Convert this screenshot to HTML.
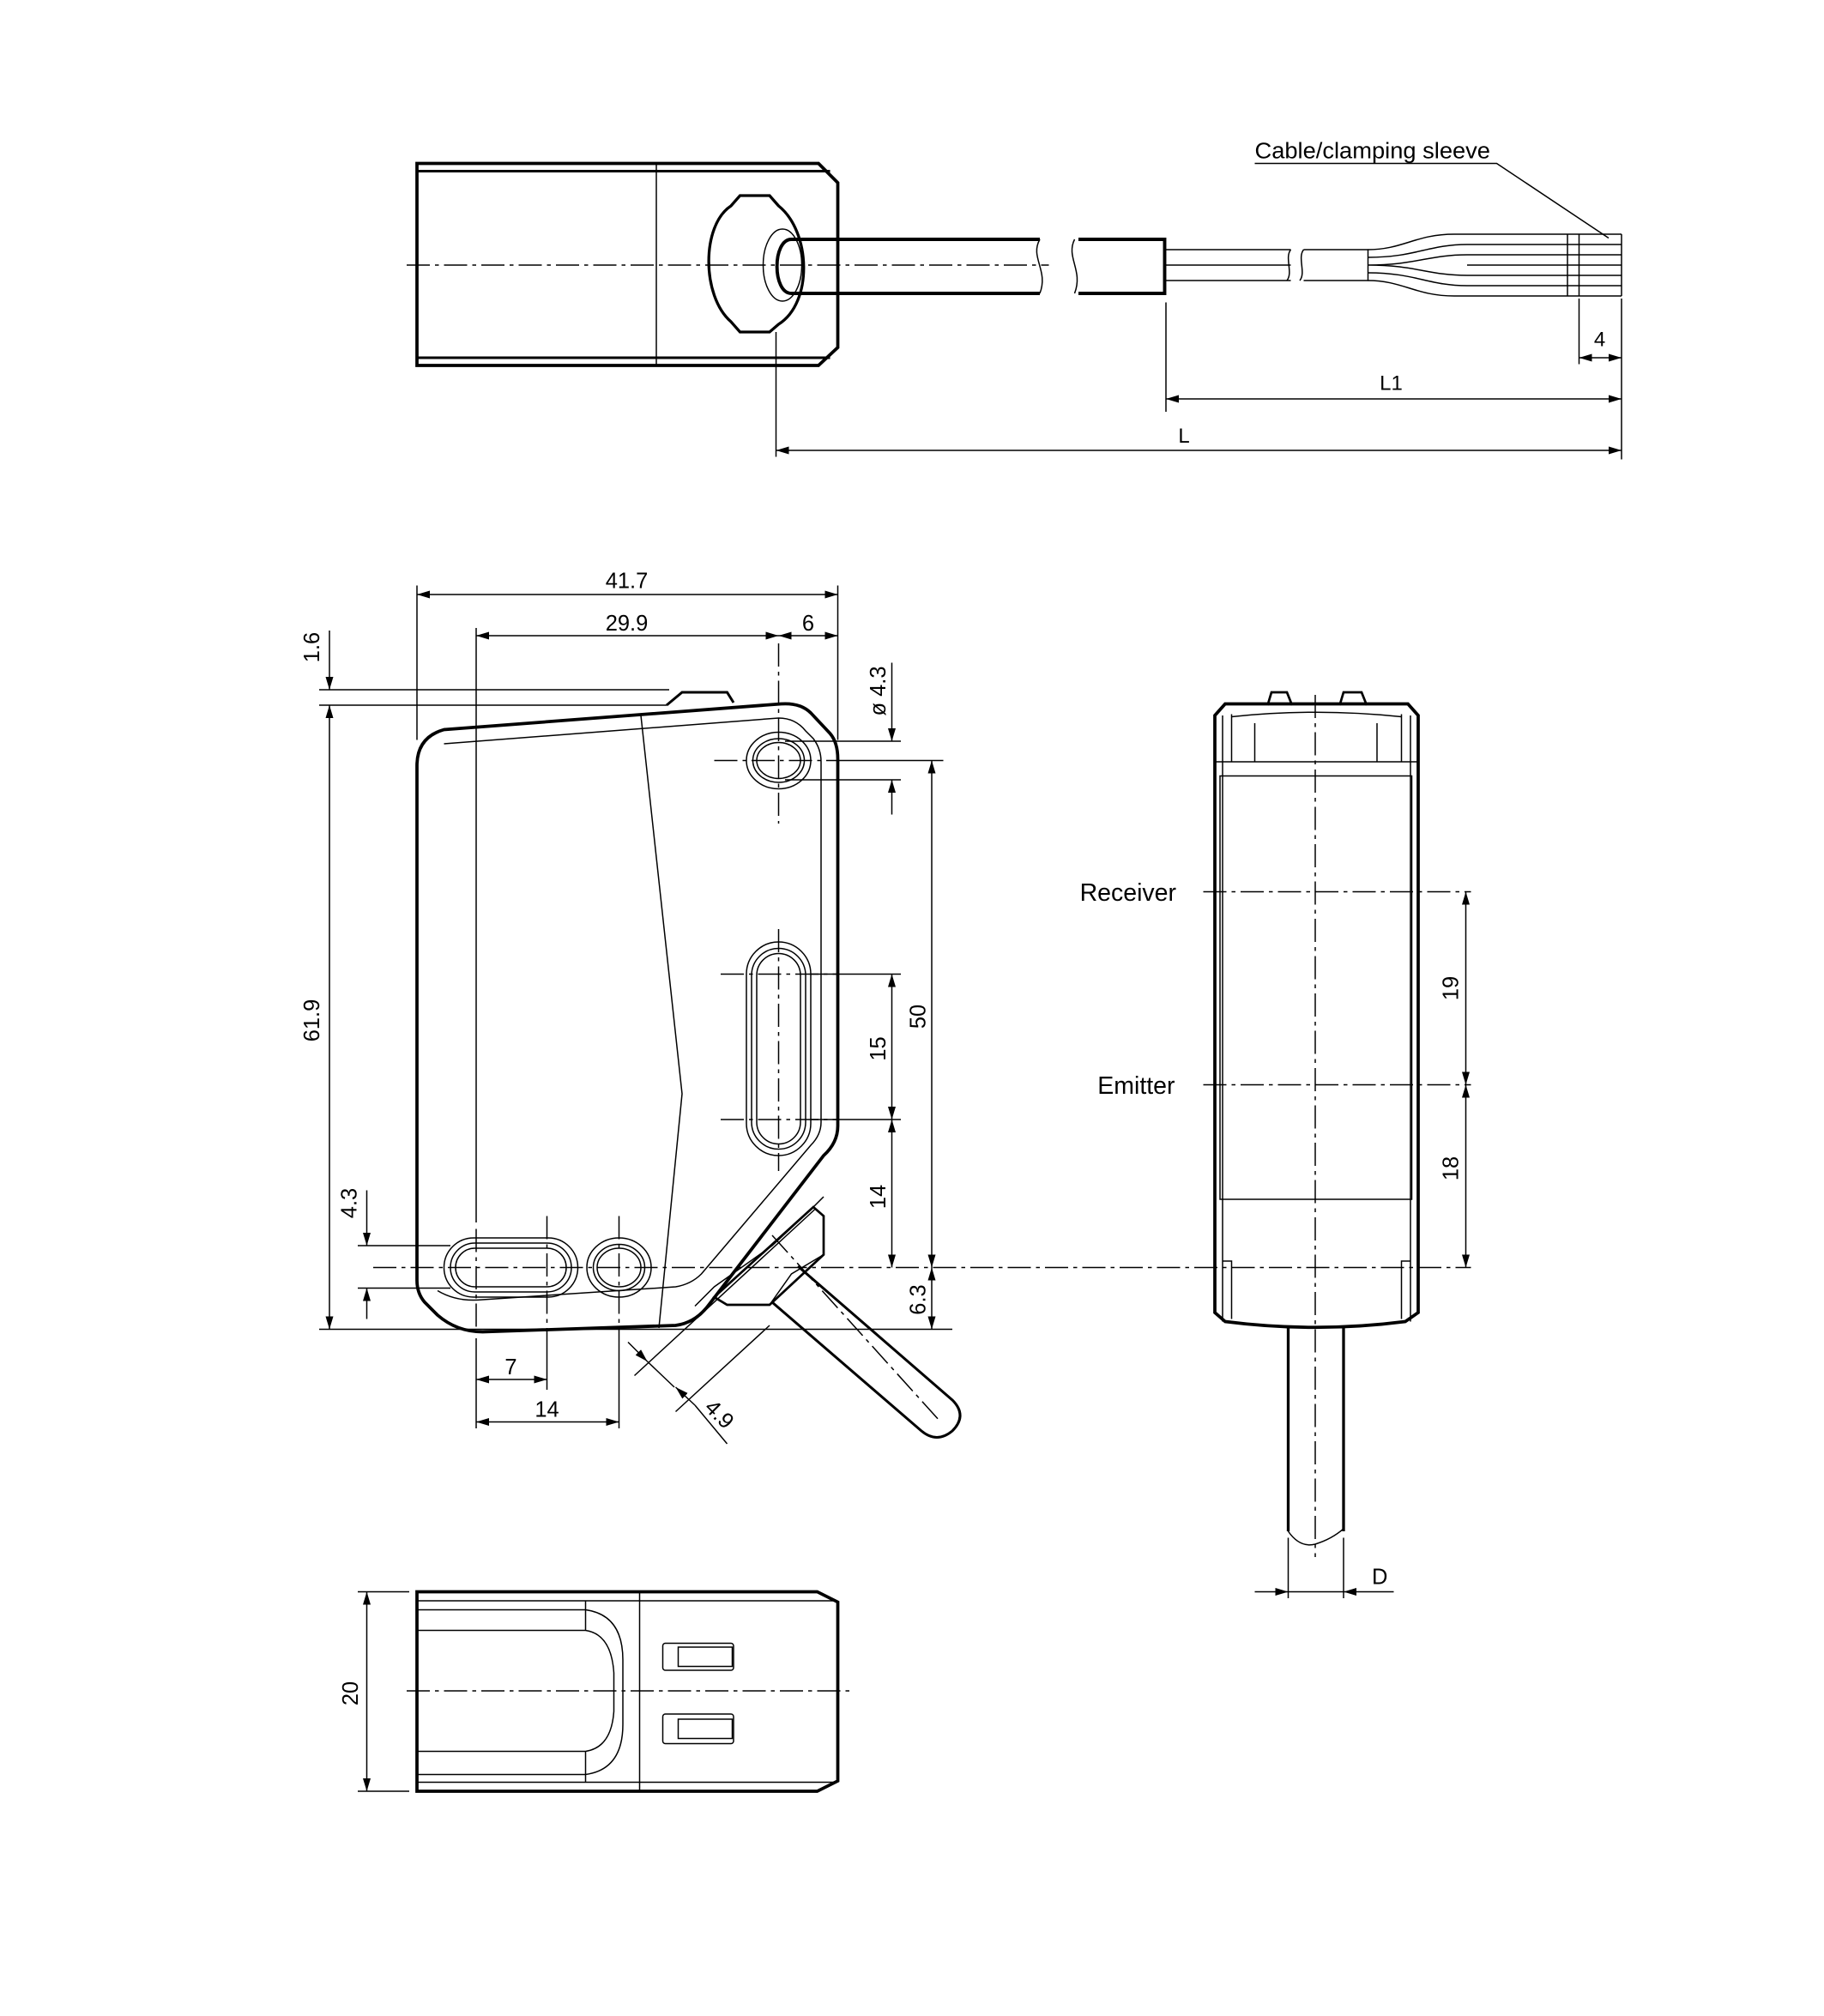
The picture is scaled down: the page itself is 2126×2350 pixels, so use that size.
<!DOCTYPE html>
<html><head><meta charset="utf-8"><style>html,body{margin:0;padding:0;background:#fff}svg{display:block}</style></head><body>
<svg width="2126" height="2350" viewBox="0 0 1417.33 1566.67" xmlns="http://www.w3.org/2000/svg" font-family="Liberation Sans, sans-serif" fill="none" stroke="#000">
<defs>
<marker id="a" viewBox="0 0 10 6" refX="10" refY="3" markerWidth="10" markerHeight="6" orient="auto-start-reverse" markerUnits="userSpaceOnUse"><path d="M0,0L10,3L0,6z" fill="#000" stroke="none"/></marker>
</defs>
<g stroke-width="1">
<!-- TOP VIEW -->
<path d="M324,127H636L651,142V270L636,284H324Z" stroke-width="2.5"/>
<line x1="324" y1="133" x2="645" y2="133" stroke-width="2"/>
<line x1="324" y1="278" x2="645" y2="278" stroke-width="2"/>
<line x1="510" y1="127" x2="510" y2="284"/>
<path d="M575,152H598L605,160C630,180 632,235 605,252L598,258H575L568,250C545,230 545,175 568,160Z" stroke-width="2.2"/>
<ellipse cx="608" cy="206" rx="15" ry="28"/>
<path d="M808,186H615C600,186 600,228 615,228H808" stroke-width="2.6"/>
<path d="M808,186C800,200 815,210 808,228"/>
<path d="M835,186C828,200 842,210 835,228"/>
<path d="M838,186H905V228H838" stroke-width="2.6"/>
<path d="M905,194H1003M905,206H1003M905,218H1003"/>
<path d="M1003,194C998,200 1005,212 1000,218M1013,194C1008,200 1015,212 1010,218"/>
<path d="M1013,194H1063V218H1013"/>
<path d="M1063,194C1090,194 1100,182 1130,182H1260M1063,200C1100,200 1110,190 1140,190H1260M1063,206C1100,206 1110,198 1140,198H1260M1063,206C1100,206 1110,214 1140,214H1260M1063,212C1100,212 1110,222 1140,222H1260M1063,218C1090,218 1100,230 1130,230H1260M1140,206H1260"/>
<line x1="1218" y1="182" x2="1218" y2="230"/><line x1="1227" y1="182" x2="1227" y2="230"/><line x1="1260" y1="182" x2="1260" y2="230"/>
<line x1="316" y1="206" x2="815" y2="206" stroke-dasharray="18,4,3,4"/>
<!-- leader -->
<path d="M975,127H1163L1250,185"/>
<text x="975" y="123" font-size="17" fill="#000" stroke="none" textLength="183" lengthAdjust="spacingAndGlyphs">Cable/clamping sleeve</text>
<!-- dims -->
<line x1="603" y1="258" x2="603" y2="355"/>
<line x1="906" y1="235" x2="906" y2="320"/>
<line x1="1227" y1="232" x2="1227" y2="283"/>
<line x1="1260" y1="232" x2="1260" y2="357"/>
<line x1="906" y1="310" x2="1260" y2="310" marker-start="url(#a)" marker-end="url(#a)"/>
<line x1="603" y1="350" x2="1260" y2="350" marker-start="url(#a)" marker-end="url(#a)"/>
<line x1="1227" y1="278" x2="1260" y2="278" marker-start="url(#a)" marker-end="url(#a)"/>
<g fill="#000" stroke="none" font-size="16" text-anchor="middle">
<text x="1081" y="303">L1</text><text x="920" y="344">L</text><text x="1243" y="269">4</text>
</g>

<!-- FRONT VIEW -->
<path d="M518,548L530,538H565L570,546" stroke-width="2"/>
<path d="M345,567L607,547Q622,546 630,554L645,570Q651,577 651,590V875Q651,888 640,898L550,1015Q540,1028 525,1030L375,1035Q355,1035 340,1022L330,1012Q324,1005 324,995V595Q324,573 345,567Z" stroke-width="2.5"/>
<path d="M345,578L605,558Q618,558 626,568L632,574Q638,582 638,592V872Q638,882 630,890L545,990Q537,998 525,1000L375,1010Q355,1012 340,1003"/>
<path d="M498,556L530,850L512,1032"/>
<path d="M540,1015L555,1000L600,968L630,940L640,930"/>
<!-- connector -->
<path d="M555,1008L632,938L640,945V975L598,1014H565Z" stroke-width="1.8"/>
<path d="M598,1014L615,990L640,975"/>
<path d="M620,984L740,1088Q752,1100 740,1112Q728,1122 716,1112L600,1012" stroke-width="2"/>
<line x1="600" y1="960" x2="730" y2="1104" stroke-dasharray="18,4,3,4"/>
<!-- holes -->
<ellipse cx="605" cy="591" rx="25" ry="22"/><ellipse cx="605" cy="591" rx="20" ry="17"/><ellipse cx="605" cy="591" rx="17" ry="14"/>
<rect x="580" y="732" width="50" height="166" rx="25"/><rect x="584" y="737" width="42" height="156" rx="21"/><rect x="588" y="741" width="34" height="148" rx="17"/>
<rect x="345" y="962" width="104" height="46" rx="23"/><rect x="350" y="966" width="94" height="38" rx="19"/><rect x="354" y="970" width="86" height="30" rx="15"/>
<ellipse cx="481" cy="985" rx="25" ry="23"/><ellipse cx="481" cy="985" rx="20" ry="18"/><ellipse cx="481" cy="985" rx="17" ry="15"/>
<g stroke-dasharray="18,4,3,4">
<line x1="605" y1="500" x2="605" y2="640"/>
<line x1="555" y1="591" x2="655" y2="591"/>
<line x1="605" y1="722" x2="605" y2="910"/>
<line x1="560" y1="757" x2="650" y2="757"/>
<line x1="560" y1="870" x2="650" y2="870"/>
<line x1="290" y1="985" x2="1143" y2="985"/>
<line x1="370" y1="955" x2="370" y2="1035"/>
<line x1="425" y1="945" x2="425" y2="1040"/>
<line x1="481" y1="945" x2="481" y2="1040"/>
</g>
<!-- front dims -->
<line x1="324" y1="455" x2="324" y2="575"/><line x1="651" y1="455" x2="651" y2="575"/>
<line x1="370" y1="488" x2="370" y2="950"/>
<line x1="324" y1="462" x2="651" y2="462" marker-start="url(#a)" marker-end="url(#a)"/>
<line x1="370" y1="494" x2="605" y2="494" marker-start="url(#a)" marker-end="url(#a)"/>
<line x1="605" y1="494" x2="651" y2="494" marker-start="url(#a)" marker-end="url(#a)"/>
<line x1="248" y1="536" x2="520" y2="536"/><line x1="248" y1="548" x2="518" y2="548"/>
<line x1="256" y1="490" x2="256" y2="536" marker-end="url(#a)"/>
<line x1="256" y1="548" x2="256" y2="1033" marker-start="url(#a)" marker-end="url(#a)"/>
<line x1="248" y1="1033" x2="740" y2="1033"/>
<line x1="278" y1="968" x2="350" y2="968"/><line x1="278" y1="1001" x2="350" y2="1001"/>
<line x1="285" y1="925" x2="285" y2="968" marker-end="url(#a)"/>
<line x1="285" y1="1001" x2="285" y2="1025" marker-start="url(#a)"/>
<line x1="610" y1="576" x2="700" y2="576"/><line x1="610" y1="606" x2="700" y2="606"/>
<line x1="693" y1="515" x2="693" y2="576" marker-end="url(#a)"/>
<line x1="693" y1="606" x2="693" y2="633" marker-start="url(#a)"/>
<line x1="655" y1="591" x2="733" y2="591"/>
<line x1="724" y1="591" x2="724" y2="985" marker-start="url(#a)" marker-end="url(#a)"/>
<line x1="724" y1="985" x2="724" y2="1033" marker-start="url(#a)" marker-end="url(#a)"/>
<line x1="630" y1="757" x2="700" y2="757"/><line x1="630" y1="870" x2="700" y2="870"/>
<line x1="693" y1="757" x2="693" y2="870" marker-start="url(#a)" marker-end="url(#a)"/>
<line x1="693" y1="870" x2="693" y2="985" marker-start="url(#a)" marker-end="url(#a)"/>
<line x1="370" y1="1040" x2="370" y2="1110"/><line x1="425" y1="1040" x2="425" y2="1080"/><line x1="481" y1="1040" x2="481" y2="1110"/>
<line x1="370" y1="1072" x2="425" y2="1072" marker-start="url(#a)" marker-end="url(#a)"/>
<line x1="370" y1="1105" x2="481" y2="1105" marker-start="url(#a)" marker-end="url(#a)"/>
<line x1="493" y1="1069" x2="633" y2="940"/>
<line x1="525" y1="1097" x2="598" y2="1030"/>
<line x1="488" y1="1043" x2="503" y2="1058" marker-end="url(#a)"/>
<line x1="503" y1="1058" x2="524" y2="1078"/>
<line x1="540" y1="1092" x2="525" y2="1078" marker-end="url(#a)"/>
<line x1="540" y1="1092" x2="565" y2="1122"/>
<g fill="#000" stroke="none" font-size="17" text-anchor="middle">
<text x="487" y="457">41.7</text><text x="487" y="490">29.9</text><text x="628" y="490">6</text>
<text x="397" y="1068">7</text><text x="425" y="1101">14</text>
<text transform="translate(248,503) rotate(-90)">1.6</text>
<text transform="translate(248,793) rotate(-90)">61.9</text>
<text transform="translate(277,935) rotate(-90)">4.3</text>
<text transform="translate(688,537) rotate(-90)">ø 4.3</text>
<text transform="translate(719,790) rotate(-90)">50</text>
<text transform="translate(688,815) rotate(-90)">15</text>
<text transform="translate(688,930) rotate(-90)">14</text>
<text transform="translate(719,1010) rotate(-90)">6.3</text>
<text transform="translate(555,1103) rotate(45)">4.9</text>
</g>

<!-- SIDE VIEW -->
<path d="M985,548L988,538H1000L1004,548M1041,548L1044,538H1058L1062,548" stroke-width="1.8"/>
<path d="M952,547H1094L1102,556V1020L1092,1027Q1022,1036 952,1027L944,1020V556Z" stroke-width="2.5"/>
<line x1="950" y1="556" x2="950" y2="1027"/><line x1="1096" y1="556" x2="1096" y2="1027"/>
<line x1="957" y1="555" x2="957" y2="592"/><line x1="1089" y1="555" x2="1089" y2="592"/>
<path d="M957,557Q1022,550 1089,557M975,562V592M1070,562V592"/>
<line x1="944" y1="592" x2="1102" y2="592"/>
<rect x="948" y="603" width="149" height="329"/>
<path d="M950,980H957V1025M1096,980H1089V1025"/>
<path d="M1001,1032V1190M1044,1032V1190" stroke-width="2.2"/>
<path d="M1001,1190Q1010,1203 1022,1200Q1035,1196 1044,1188"/>
<g stroke-dasharray="18,4,3,4">
<line x1="1022" y1="540" x2="1022" y2="1210"/>
<line x1="935" y1="693" x2="1143" y2="693"/>
<line x1="935" y1="843" x2="1143" y2="843"/>
</g>
<line x1="1139" y1="693" x2="1139" y2="843" marker-start="url(#a)" marker-end="url(#a)"/>
<line x1="1139" y1="843" x2="1139" y2="985" marker-start="url(#a)" marker-end="url(#a)"/>
<line x1="1001" y1="1195" x2="1001" y2="1242"/><line x1="1044" y1="1195" x2="1044" y2="1242"/>
<line x1="975" y1="1237" x2="1001" y2="1237" marker-end="url(#a)"/>
<line x1="1083" y1="1237" x2="1044" y2="1237" marker-end="url(#a)"/>
<line x1="1001" y1="1237" x2="1044" y2="1237"/>
<g fill="#000" stroke="none" font-size="19">
<text x="914" y="700" text-anchor="end">Receiver</text>
<text x="913" y="850" text-anchor="end">Emitter</text>
<text x="1066" y="1231" font-size="17">D</text>
<text transform="translate(1133,768) rotate(-90)" text-anchor="middle" font-size="17">19</text>
<text transform="translate(1133,908) rotate(-90)" text-anchor="middle" font-size="17">18</text>
</g>

<!-- BOTTOM VIEW -->
<path d="M324,1237H635L651,1245V1384L635,1392H324Z" stroke-width="2.5"/>
<line x1="324" y1="1244" x2="648" y2="1244"/><line x1="324" y1="1385" x2="648" y2="1385"/>
<line x1="497" y1="1237" x2="497" y2="1392"/>
<path d="M324,1251H455Q484,1255 484,1290V1340Q484,1375 455,1379H324"/>
<path d="M324,1267H455Q475,1270 477,1300V1330Q475,1358 455,1361H324"/>
<line x1="455" y1="1244" x2="455" y2="1267"/><line x1="455" y1="1361" x2="455" y2="1385"/>
<rect x="515" y="1277" width="55" height="21" rx="2"/><rect x="527" y="1280" width="42" height="15"/>
<rect x="515" y="1332" width="55" height="23" rx="2"/><rect x="527" y="1336" width="42" height="15"/>
<line x1="316" y1="1314" x2="660" y2="1314" stroke-dasharray="18,4,3,4"/>
<line x1="278" y1="1237" x2="318" y2="1237"/><line x1="278" y1="1392" x2="318" y2="1392"/>
<line x1="285" y1="1237" x2="285" y2="1392" marker-start="url(#a)" marker-end="url(#a)"/>
<text transform="translate(278,1316) rotate(-90)" text-anchor="middle" font-size="17" fill="#000" stroke="none">20</text>
</g>
</svg>
</body></html>
